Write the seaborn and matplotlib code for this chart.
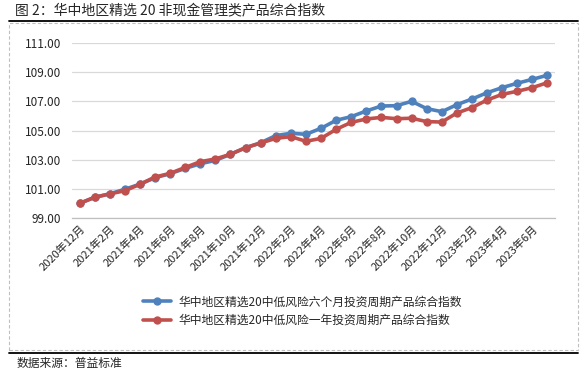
import matplotlib
matplotlib.use("Agg")
import matplotlib.pyplot as plt
from matplotlib.lines import Line2D
from matplotlib.patches import Rectangle
import seaborn as sns
import pandas as pd

# 数据
months = ["2020年12月", "2021年1月", "2021年2月", "2021年3月", "2021年4月", "2021年5月",
          "2021年6月", "2021年7月", "2021年8月", "2021年9月", "2021年10月", "2021年11月",
          "2021年12月", "2022年1月", "2022年2月", "2022年3月", "2022年4月", "2022年5月",
          "2022年6月", "2022年7月", "2022年8月", "2022年9月", "2022年10月", "2022年11月",
          "2022年12月", "2023年1月", "2023年2月", "2023年3月", "2023年4月", "2023年5月",
          "2023年6月", "2023年7月"]
idx_6m = [100.00, 100.42, 100.66, 100.97, 101.32, 101.76, 102.04, 102.40, 102.72, 102.95,
          103.37, 103.82, 104.16, 104.65, 104.81, 104.74, 105.15, 105.70, 105.95, 106.34,
          106.68, 106.70, 107.00, 106.50, 106.29, 106.77, 107.16, 107.59, 107.94, 108.24,
          108.51, 108.79]
idx_1y = [100.00, 100.42, 100.65, 100.87, 101.31, 101.81, 102.06, 102.47, 102.86, 103.05,
          103.37, 103.82, 104.14, 104.46, 104.58, 104.26, 104.46, 105.08, 105.56, 105.79,
          105.90, 105.81, 105.84, 105.61, 105.58, 106.20, 106.57, 107.09, 107.48, 107.69,
          107.94, 108.28]
names = ["华中地区精选20中低风险六个月投资周期产品综合指数",
         "华中地区精选20中低风险一年投资周期产品综合指数"]
colors = ["#4F81BD", "#C0504D"]

df = pd.DataFrame({
    "pos": list(range(len(months))) * 2,
    "value": idx_6m + idx_1y,
    "series": [names[0]] * len(months) + [names[1]] * len(months),
})

sns.set_theme(style="white")
plt.rcParams["font.family"] = ["Noto Sans CJK SC", "DejaVu Sans"]
txt = "#262626"

W, H = 587, 373
fig = plt.figure(figsize=(W / 100, H / 100), dpi=100)
ax = fig.add_axes([72 / W, 1 - 218 / H, (555 - 72) / W, (218 - 43) / H])

sns.lineplot(data=df, x="pos", y="value", hue="series", palette=colors,
             marker="o", markersize=6, markeredgewidth=0, linewidth=2.6,
             ax=ax, legend=False)

# 坐标轴
ax.set_xlim(-0.5, len(months) - 0.5)
ax.set_ylim(99, 111)
ax.set_yticks(range(99, 112, 2))
ax.set_yticklabels([f"{v:.2f}" for v in range(99, 112, 2)], fontsize=8.5, color=txt)
ax.set_xticks(range(0, len(months), 2))
ax.set_xticklabels(months[::2], rotation=45, ha="right", va="top",
                   rotation_mode="anchor", fontsize=8, color=txt)
ax.set_xticks([i - 0.5 for i in range(0, len(months) + 1, 2)], minor=True)
ax.tick_params(axis="x", which="major", length=0, pad=4)
ax.tick_params(axis="x", which="minor", length=4, color="#BFBFBF", width=0.8)
ax.tick_params(axis="y", length=0, pad=8)
ax.grid(axis="y", color="#D9D9D9", linewidth=0.9)
ax.set_axisbelow(True)
for s in ["left", "right", "top"]:
    ax.spines[s].set_visible(False)
ax.spines["bottom"].set_color("#BFBFBF")
ax.spines["bottom"].set_linewidth(0.9)
ax.set_xlabel("")
ax.set_ylabel("")

# 图例
handles = [Line2D([], [], color=c, lw=2.6, marker="o", markersize=6, markeredgewidth=0)
           for c in colors]
fig.legend(handles, names, loc="center", bbox_to_anchor=(302 / W, 1 - 311 / H),
           frameon=False, fontsize=8.5, handlelength=2.4, labelspacing=0.45,
           handletextpad=0.6, labelcolor=txt)

# 标题、边框与来源
fig.text(15 / W, 1 - 10 / H, "图 2：华中地区精选 20 非现金管理类产品综合指数",
         fontsize=10, va="center", ha="left", color=txt)
fig.add_artist(Line2D([9 / W, 578 / W], [1 - 21 / H] * 2, color="black", lw=1.3))
fig.add_artist(Rectangle((9 / W, 1 - 350 / H), 569 / W, 327 / H, fill=False,
                         edgecolor="#BFBFBF", lw=0.8, linestyle=(0, (3, 2))))
fig.add_artist(Line2D([9 / W, 578 / W], [1 - 353 / H] * 2, color="black", lw=1.3))
fig.text(17 / W, 1 - 363 / H, "数据来源：普益标准", fontsize=8.5, va="center",
         ha="left", color=txt)

fig.savefig("out.png", dpi=100)
